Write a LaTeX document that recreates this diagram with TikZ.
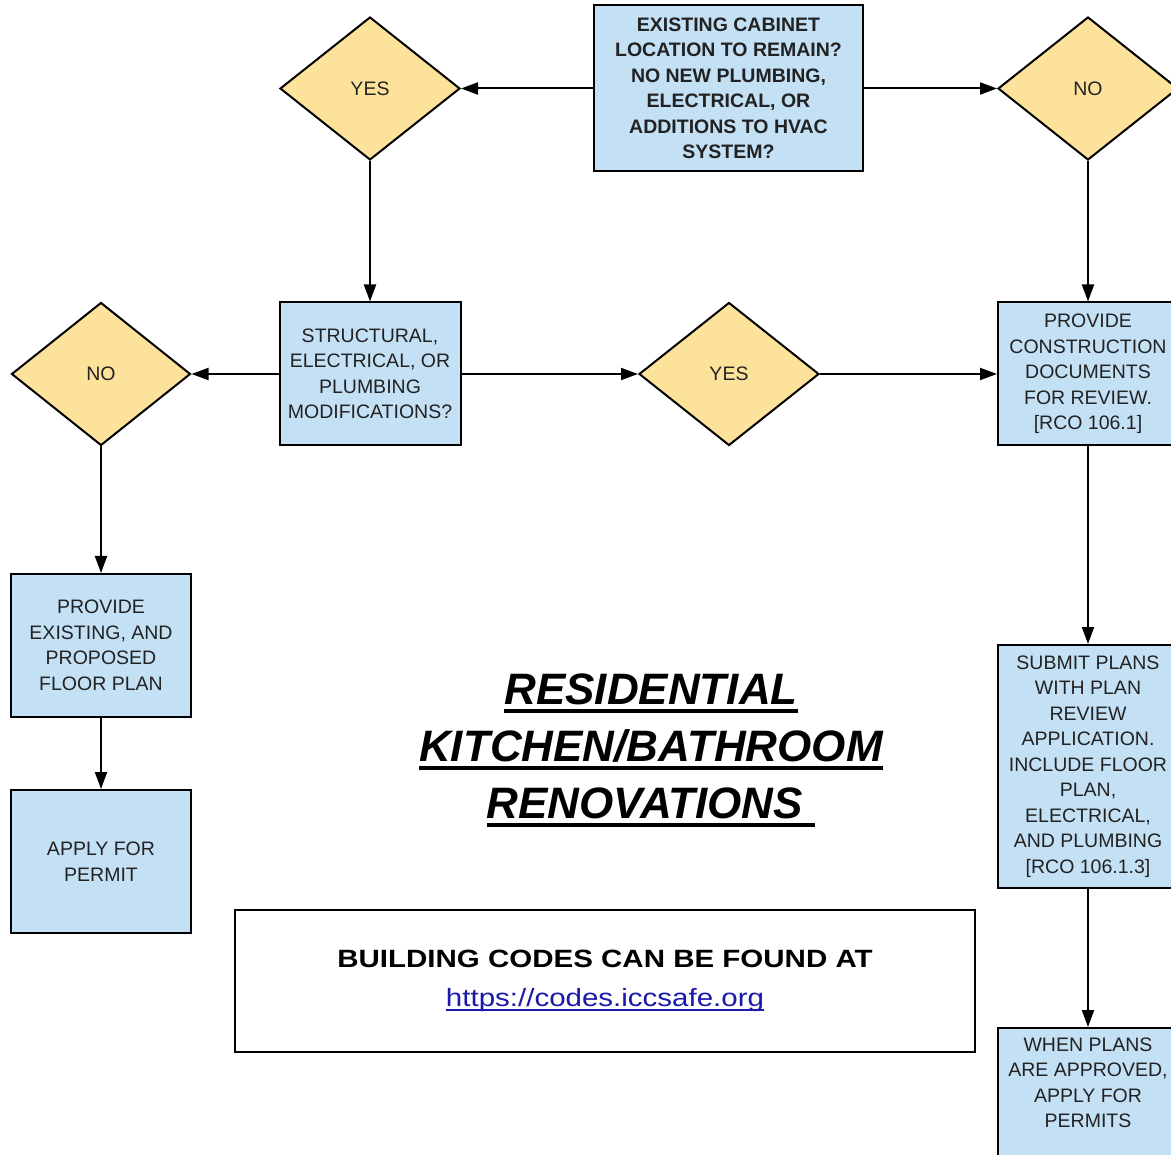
\documentclass[tikz,border=0pt]{standalone}
\usepackage{fontspec}
\usepackage{graphicx}
\setmainfont{Liberation Sans}
\usetikzlibrary{shapes.geometric,arrows.meta}
\definecolor{boxblue}{RGB}{196,224,245}
\definecolor{diayel}{RGB}{253,226,155}
\definecolor{txtc}{RGB}{34,34,34}
\definecolor{urlblue}{RGB}{25,25,170}
\newsavebox\myulbox
\newcommand\ulbar[3]{\sbox\myulbox{#3}\leavevmode\rlap{\rule[-#1]{\wd\myulbox}{#2}}\usebox\myulbox}
\begin{document}
\begin{tikzpicture}[x=1pt,y=-1pt,
  base/.style={draw=black, line width=2pt, text=txtc, align=center, font=\fontsize{19.5}{25.5}\selectfont, inner sep=2pt},
  pbox/.style={base, rectangle, fill=boxblue, minimum width=180pt, minimum height=143pt},
  dec/.style={base, diamond, fill=diayel, minimum width=180pt, minimum height=143pt},
  conn/.style={line width=2pt, draw=black, -{Triangle[length=17pt,width=12pt]}}]
\useasboundingbox (0,0) rectangle (1171,1155);
\fill[white] (0,0) rectangle (1171,1155);

\node[pbox, minimum width=269pt, minimum height=166pt, font=\bfseries\fontsize{19.5}{25.5}\selectfont] (q1) at (728.5,88.5) {EXISTING CABINET\\LOCATION TO REMAIN?\\NO NEW PLUMBING,\\ELECTRICAL, OR\\ADDITIONS TO HVAC\\SYSTEM?};
\node[dec] (y1) at (370,88.5) {YES};
\node[dec] (n1) at (1088,88.5) {NO};

\node[pbox, minimum width=181pt] (s) at (370,374) {STRUCTURAL,\\ELECTRICAL, OR\\PLUMBING\\MODIFICATIONS?};
\node[dec, minimum width=179pt] (n2) at (101,374) {NO};
\node[dec] (y2) at (729,374) {YES};
\node[pbox] (pc) at (1088,374) {PROVIDE\\CONSTRUCTION\\DOCUMENTS\\FOR REVIEW.\\{[RCO 106.1]}};

\node[pbox, minimum height=243pt] (sp) at (1088,766.5) {SUBMIT PLANS\\WITH PLAN\\REVIEW\\APPLICATION.\\INCLUDE FLOOR\\PLAN,\\ELECTRICAL,\\AND PLUMBING\\{[RCO 106.1.3]}};
\node[pbox, anchor=north] (wp) at (1088,1027) {WHEN PLANS\\ARE APPROVED,\\APPLY FOR\\PERMITS\\\strut};

\node[pbox] (pe) at (101,645.5) {PROVIDE\\EXISTING, AND\\PROPOSED\\FLOOR PLAN};
\node[pbox] (ap) at (101,861.5) {APPLY FOR\\PERMIT};

\node[align=center, inner sep=0pt, text=black, font=\bfseries\itshape\fontsize{44}{57}\selectfont] (title) at (651,750.5)
  {\ulbar{8pt}{4pt}{RESIDENTIAL}\\\ulbar{8pt}{4pt}{KITCHEN/BATHROOM}\\\ulbar{8pt}{4pt}{RENOVATIONS\ }};

\node[draw=black, line width=2pt, fill=white, minimum width=740pt, minimum height=142pt, align=center, inner sep=0pt, font=\fontsize{25}{39}\selectfont] (codes) at (605,981)
  {\scalebox{1.18}[1]{\bfseries BUILDING CODES CAN BE FOUND AT}\\\textcolor{urlblue}{\scalebox{1.18}[1]{\ulbar{4pt}{1.5pt}{https://codes.iccsafe.org}}}};

\draw[conn] (q1.west) -- (y1.east);
\draw[conn] (q1.east) -- (n1.west);
\draw[conn] (y1.south) -- (s.north);
\draw[conn] (n1.south) -- (pc.north);
\draw[conn] (s.west) -- (n2.east);
\draw[conn] (s.east) -- (y2.west);
\draw[conn] (y2.east) -- (pc.west);
\draw[conn] (pc.south) -- (sp.north);
\draw[conn] (sp.south) -- (wp.north);
\draw[conn] (n2.south) -- (pe.north);
\draw[conn] (pe.south) -- (ap.north);
\end{tikzpicture}
\end{document}
